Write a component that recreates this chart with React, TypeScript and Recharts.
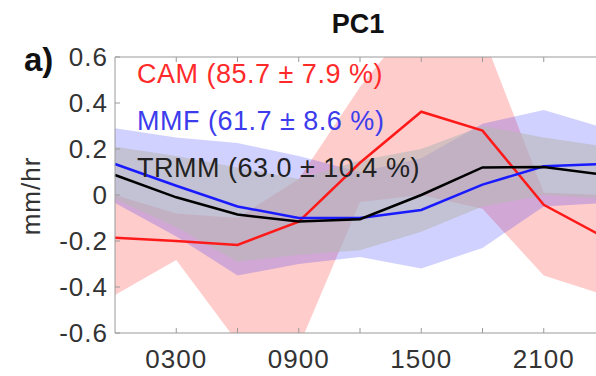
import { ComposedChart, Area, Line, XAxis, YAxis } from "recharts";

const hours = [0, 3, 6, 9, 12, 15, 18, 21, 24];

const camMean = [-0.186, -0.2, -0.217, -0.116, 0.14, 0.362, 0.28, -0.043, -0.186];
const camLow = [-0.435, -0.283, -0.64, -0.66, -0.03, 0.0, -0.06, -0.35, -0.435];
const camHigh = [0.0, -0.08, -0.1, 0.07, 0.47, 0.8, 0.7, 0.01, 0.0];

const mmfMean = [0.135, 0.04, -0.05, -0.1, -0.1, -0.065, 0.045, 0.125, 0.135];
const mmfLow = [-0.035, -0.18, -0.35, -0.3, -0.27, -0.32, -0.23, -0.05, -0.035];
const mmfHigh = [0.29, 0.25, 0.226, 0.17, 0.1, 0.16, 0.31, 0.37, 0.29];

const trmmMean = [0.087, -0.01, -0.085, -0.115, -0.105, 0.0, 0.12, 0.122, 0.087];
const trmmLow = [-0.017, -0.14, -0.29, -0.26, -0.24, -0.16, -0.05, 0.0, -0.017];
const trmmHigh = [0.21, 0.17, 0.12, 0.07, 0.15, 0.2, 0.3, 0.25, 0.21];

const xTicks = [3, 6, 9, 12, 15, 18, 21];
const xLabels: Record<number, string> = { 3: "0300", 9: "0900", 15: "1500", 21: "2100" };
const yTicks = [-0.6, -0.4, -0.2, 0, 0.2, 0.4, 0.6];

const legend = [
  { text: "CAM (85.7 \u00b1 7.9 %)", color: "#ff2a2a" },
  { text: "MMF (61.7 \u00b1 8.6 %)", color: "#3c3cec" },
  { text: "TRMM (63.0 \u00b1 10.4 %)", color: "#222" },
];

const data = hours.map((h, i) => ({
  hour: h,
  cam: camMean[i],
  camBand: [camLow[i], camHigh[i]],
  mmf: mmfMean[i],
  mmfBand: [mmfLow[i], mmfHigh[i]],
  trmm: trmmMean[i],
  trmmBand: [trmmLow[i], trmmHigh[i]],
}));

const FONT = "'Liberation Sans', Arial, Helvetica, sans-serif";
const AXIS = "#9a9a9a";

const BottomTick = (props: any) => {
  const { x, y, payload } = props;
  const label = xLabels[payload.value];
  return (
    <g>
      <line x1={x} y1={y} x2={x} y2={y - 5} stroke={AXIS} />
      {label && (
        <text x={x} y={y + 35} textAnchor="middle" fontSize={26} letterSpacing={1} fill="#333" fontFamily={FONT}>
          {label}
        </text>
      )}
    </g>
  );
};

const TopTick = (props: any) => {
  const { x, y } = props;
  return <line x1={x} y1={y} x2={x} y2={y + 5} stroke={AXIS} />;
};

const LeftTick = (props: any) => {
  const { x, y, payload } = props;
  const v = payload.value;
  const label = Math.abs(v) < 1e-9 ? "0" : v.toFixed(1);
  return (
    <g>
      <line x1={x} y1={y} x2={x + 5} y2={y} stroke={AXIS} />
      <text x={x - 7} y={y + 9} textAnchor="end" fontSize={26} letterSpacing={1} fill="#333" fontFamily={FONT}>
        {label}
      </text>
    </g>
  );
};

export default function App() {
  return (
    <div
      style={{
        position: "fixed",
        left: 0,
        top: 0,
        width: 596,
        height: 376,
        overflow: "hidden",
        background: "#fff",
        fontFamily: FONT,
      }}
    >
      <ComposedChart width={620} height={376} data={data} margin={{ top: 47, right: 15, bottom: 3, left: 55 }}>
        <XAxis
          dataKey="hour"
          type="number"
          domain={[0, 24]}
          ticks={xTicks}
          height={40}
          tickSize={0}
          tickMargin={0}
          tickLine={false}
          axisLine={{ stroke: AXIS }}
          tick={<BottomTick />}
          interval={0}
        />
        <XAxis
          xAxisId="top"
          orientation="top"
          dataKey="hour"
          type="number"
          domain={[0, 24]}
          ticks={xTicks}
          height={10}
          tickSize={0}
          tickMargin={0}
          tickLine={false}
          axisLine={{ stroke: AXIS }}
          tick={<TopTick />}
          interval={0}
        />
        <YAxis
          type="number"
          domain={[-0.6, 0.6]}
          ticks={yTicks}
          allowDataOverflow
          width={60}
          tickSize={0}
          tickMargin={0}
          tickLine={false}
          axisLine={{ stroke: AXIS }}
          tick={<LeftTick />}
          interval={0}
        />
        <Area type="linear" dataKey="camBand" stroke="none" fill="#ff0000" fillOpacity={0.2} isAnimationActive={false} />
        <Area type="linear" dataKey="mmfBand" stroke="none" fill="#0000ff" fillOpacity={0.18} isAnimationActive={false} />
        <Area type="linear" dataKey="trmmBand" stroke="none" fill="#b8b8b8" fillOpacity={0.6} isAnimationActive={false} />
        <Line type="linear" dataKey="cam" stroke="#ff1a1a" strokeWidth={2.5} dot={false} isAnimationActive={false} />
        <Line type="linear" dataKey="mmf" stroke="#1a1aff" strokeWidth={2.5} dot={false} isAnimationActive={false} />
        <Line type="linear" dataKey="trmm" stroke="#000" strokeWidth={2.5} dot={false} isAnimationActive={false} />
      </ComposedChart>
      <svg width={596} height={376} style={{ position: "absolute", left: 0, top: 0, pointerEvents: "none" }}>
        <text x={358} y={33} textAnchor="middle" fontSize={27} fontWeight="bold" fill="#111" fontFamily={FONT}>
          PC1
        </text>
        <text x={24} y={71} fontSize={33} fontWeight="bold" fill="#111" fontFamily={FONT}>
          a)
        </text>
        <text
          transform="translate(40,196) rotate(-90)"
          textAnchor="middle"
          fontSize={26}
          letterSpacing={1}
          fill="#333"
          fontFamily={FONT}
        >
          mm/hr
        </text>
        {legend.map((l, i) => (
          <text key={l.text} x={137} y={83 + i * 47} fontSize={27} letterSpacing={0.5} fill={l.color} fontFamily={FONT}>
            {l.text}
          </text>
        ))}
      </svg>
    </div>
  );
}
